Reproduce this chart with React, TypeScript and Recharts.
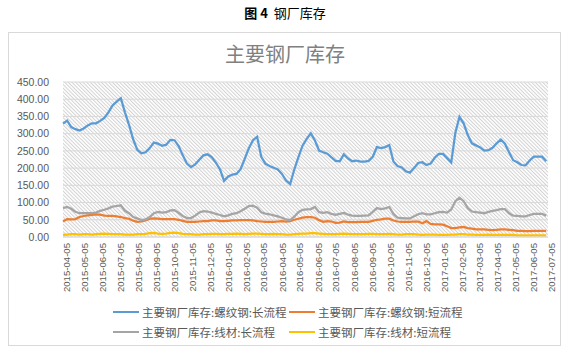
import React from 'react';
import { LineChart, Line, XAxis, YAxis, CartesianGrid } from 'recharts';

const dates = [
  '2015-04-05','2015-04-12','2015-04-19','2015-04-26','2015-05-03','2015-05-10','2015-05-17','2015-05-24','2015-05-31','2015-06-07',
  '2015-06-14','2015-06-21','2015-06-28','2015-07-05','2015-07-12','2015-07-19','2015-07-26','2015-08-02','2015-08-09','2015-08-16',
  '2015-08-23','2015-08-30','2015-09-06','2015-09-13','2015-09-20','2015-09-27','2015-10-04','2015-10-11','2015-10-18','2015-10-25',
  '2015-11-01','2015-11-08','2015-11-15','2015-11-22','2015-11-29','2015-12-06','2015-12-13','2015-12-20','2015-12-27','2016-01-03',
  '2016-01-10','2016-01-17','2016-01-24','2016-01-31','2016-02-07','2016-02-14','2016-02-21','2016-02-28','2016-03-06','2016-03-13',
  '2016-03-20','2016-03-27','2016-04-03','2016-04-10','2016-04-17','2016-04-24','2016-05-01','2016-05-08','2016-05-15','2016-05-22',
  '2016-05-29','2016-06-05','2016-06-12','2016-06-19','2016-06-26','2016-07-03','2016-07-10','2016-07-17','2016-07-24','2016-07-31',
  '2016-08-07','2016-08-14','2016-08-21','2016-08-28','2016-09-04','2016-09-11','2016-09-18','2016-09-25','2016-10-02','2016-10-09',
  '2016-10-16','2016-10-23','2016-10-30','2016-11-06','2016-11-13','2016-11-20','2016-11-27','2016-12-04','2016-12-11','2016-12-18',
  '2016-12-25','2017-01-01','2017-01-08','2017-01-15','2017-01-22','2017-01-29','2017-02-05','2017-02-12','2017-02-19','2017-02-26',
  '2017-03-05','2017-03-12','2017-03-19','2017-03-26','2017-04-02','2017-04-09','2017-04-16','2017-04-23','2017-04-30','2017-05-07',
  '2017-05-14','2017-05-21','2017-05-28','2017-06-04','2017-06-11','2017-06-18','2017-06-25','2017-07-02',
];

const rebarLong = [
  329,338,319,313,309,315,324,330,330,337,
  346,362,382,393,403,362,325,283,253,243,
  246,258,274,271,265,268,282,281,264,237,
  213,203,211,224,237,240,232,216,197,163,
  176,181,183,197,227,258,281,291,233,213,
  206,201,196,183,164,154,196,232,265,285,
  301,280,251,246,242,231,221,220,240,228,
  220,222,219,219,221,233,261,258,261,267,
  219,206,202,191,187,200,215,217,209,213,
  230,241,241,229,216,303,349,330,296,272,
  266,260,251,252,259,272,283,271,246,223,
  217,209,208,222,233,233,233,220,
];

const rebarShort = [
  45,52,51,52,58,61,63,64,66,65,
  62,61,61,60,58,55,53,47,44,45,
  48,53,54,53,52,52,52,52,50,47,
  44,44,44,45,46,46,48,48,46,46,
  47,48,48,49,49,49,48,46,45,44,
  44,44,45,46,45,46,50,53,56,58,
  58,56,49,44,46,45,41,42,45,43,
  43,43,44,44,44,47,50,51,53,53,
  48,45,44,44,44,45,45,40,46,38,
  37,37,36,31,26,26,28,29,26,24,
  22,22,22,21,20,21,22,22,21,20,
  18,18,17,17,18,18,18,18,
];

const wireLong = [
  84,87,82,73,69,69,69,69,71,76,
  79,83,88,90,92,76,69,58,54,49,
  51,58,69,73,71,72,77,78,70,61,
  55,55,62,71,75,74,71,67,64,60,
  63,67,69,75,82,90,91,85,72,68,
  66,63,60,56,51,49,59,72,79,80,
  81,87,72,70,72,67,64,67,70,65,
  62,61,61,62,63,73,84,81,83,87,
  67,56,55,54,54,60,66,69,66,66,
  69,72,73,71,80,104,114,104,84,74,
  72,71,69,73,76,78,81,81,69,62,
  61,60,60,64,67,67,67,62,
];

const wireShort = [
  6,7,8,8,7,8,8,7,8,9,
  10,9,8,8,8,7,7,7,8,8,
  9,11,12,10,9,10,12,13,11,9,
  8,8,7,7,8,8,9,9,8,8,
  9,9,10,9,8,9,10,10,9,8,
  8,9,8,8,7,7,8,9,10,10,
  11,11,10,9,8,8,8,9,10,9,
  8,8,8,8,9,9,8,8,8,9,
  8,7,7,8,8,8,7,6,7,7,
  7,6,6,6,7,7,8,8,7,7,
  6,6,6,7,6,6,6,6,6,6,
  5,5,5,5,5,5,5,5,
];

const seriesNames = [
  '主要钢厂库存:螺纹钢:长流程',
  '主要钢厂库存:螺纹钢:短流程',
  '主要钢厂库存:线材:长流程',
  '主要钢厂库存:线材:短流程',
];
const seriesKeys = ['rebarLong', 'rebarShort', 'wireLong', 'wireShort'];
const seriesColors = ['#5B9BD5', '#ED7D31', '#A5A5A5', '#FFC000'];

const xTickLabels = [
  '2015-04-05','2015-05-05','2015-06-05','2015-07-05','2015-08-05','2015-09-05','2015-10-05',
  '2015-11-05','2015-12-05','2016-01-05','2016-02-05','2016-03-05','2016-04-05','2016-05-05',
  '2016-06-05','2016-07-05','2016-08-05','2016-09-05','2016-10-05','2016-11-05','2016-12-05',
  '2017-01-05','2017-02-05','2017-03-05','2017-04-05','2017-05-05','2017-06-05','2017-07-05',
];
const yTicks = [0, 50, 100, 150, 200, 250, 300, 350, 400, 450];

const DAY = 86400000;
const toDay = (s: string) => Math.round(Date.parse(s) / DAY);
const dayToLabel = (d: number) => new Date(d * DAY).toISOString().slice(0, 10);

const data = dates.map((d, i) => ({
  t: toDay(d),
  rebarLong: rebarLong[i],
  rebarShort: rebarShort[i],
  wireLong: wireLong[i],
  wireShort: wireShort[i],
}));
const xTicks = xTickLabels.map(toDay);

const FONT = "'Liberation Sans', 'Noto Sans CJK SC', sans-serif";
const CJK = "'Noto Sans CJK SC', 'Liberation Sans', sans-serif";

export default function App() {
  return (
    <div style={{ position: 'absolute', left: 0, top: 0, width: 575, height: 356, background: '#fff', overflow: 'hidden' }}>
      <svg width={2} height={2} style={{ position: 'absolute', left: 0, top: 0 }}>
        <defs>
          <pattern id="hatch" x="0" y="0" width="2.6" height="2.6" patternUnits="userSpaceOnUse" patternTransform="rotate(-45)">
            <rect x="0" y="0" width="2.6" height="2.6" fill="#ffffff" />
            <rect x="0" y="0" width="1" height="2.6" fill="#d2d2d2" />
          </pattern>
        </defs>
      </svg>
      <div style={{ position: 'absolute', left: 0, width: 570, top: 4, textAlign: 'center', fontFamily: CJK, fontSize: 13, lineHeight: '18px', color: '#000' }}>
        <span style={{ fontWeight: 'bold' }}>图 4</span>&nbsp;&nbsp;钢厂库存
      </div>
      <div style={{ position: 'absolute', left: 8, top: 32, width: 553, height: 314, border: '1px solid #d9d9d9', boxSizing: 'border-box' }} />
      <div style={{ position: 'absolute', left: 8, width: 554, top: 40, textAlign: 'center', fontFamily: CJK, fontSize: 20, lineHeight: '28px', color: '#808080' }}>
        主要钢厂库存
      </div>
      <div style={{ position: 'absolute', left: 0, top: 0 }}>
        <LineChart width={575} height={356} data={data} margin={{ top: 82, right: 27, bottom: 59, left: 0 }}>
          <CartesianGrid vertical={false} stroke="#d9d9d9" fill="url(#hatch)" fillOpacity={1} />
          <XAxis
            dataKey="t"
            type="number"
            domain={[xTicks[0], xTicks[xTicks.length - 1]]}
            ticks={xTicks}
            interval={0}
            tickFormatter={dayToLabel}
            height={60}
            angle={-90}
            textAnchor="end"
            tickLine={false}
            tickSize={0}
            tickMargin={6}
            axisLine={{ stroke: '#d9d9d9' }}
            tick={{ fontSize: 9.6, fill: '#595959', fontFamily: FONT }}
          />
          <YAxis
            type="number"
            domain={[0, 450]}
            ticks={yTicks}
            interval={0}
            width={63}
            tickFormatter={(v: number) => v.toFixed(2)}
            axisLine={false}
            tickLine={false}
            tickSize={0}
            tickMargin={14}
            tick={{ fontSize: 10.5, fill: '#595959', fontFamily: FONT }}
          />
          {seriesKeys.map((k, i) => (
            <Line
              key={k}
              dataKey={k}
              name={seriesNames[i]}
              type="linear"
              stroke={seriesColors[i]}
              strokeWidth={2.25}
              dot={false}
              isAnimationActive={false}
            />
          ))}
        </LineChart>
      </div>
      {seriesNames.map((n, i) => {
        const col = i % 2;
        const row = Math.floor(i / 2);
        const left = col === 0 ? 113 : 289;
        const cy = row === 0 ? 312 : 332;
        return (
          <div key={n} style={{ position: 'absolute', left, top: cy - 9, height: 18, display: 'flex', alignItems: 'center', whiteSpace: 'nowrap' }}>
            <div style={{ width: 26, height: 2.25, background: seriesColors[i], marginRight: 3 }} />
            <span style={{ fontFamily: CJK, fontSize: 11.5, color: '#595959', lineHeight: '18px' }}>{n}</span>
          </div>
        );
      })}
    </div>
  );
}
